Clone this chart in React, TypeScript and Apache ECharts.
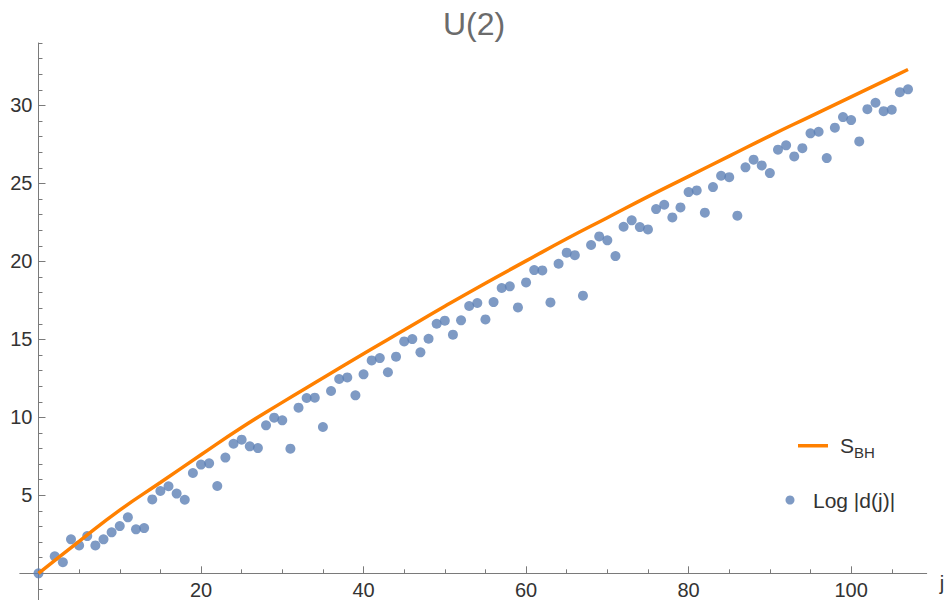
import { useEffect, useRef } from "react";
import * as echarts from "echarts";

// Scatter points: j and Log|d(j)|
const pointJ = [
  0, 2, 3, 4, 5, 6, 7, 8, 9, 10, 11, 12, 13, 14, 15, 16, 17, 18, 19, 20,
  21, 22, 23, 24, 25, 26, 27, 28, 29, 30, 31, 32, 33, 34, 35, 36, 37, 38, 39, 40,
  41, 42, 43, 44, 45, 46, 47, 48, 49, 50, 51, 52, 53, 54, 55, 56, 57, 58, 59, 60,
  61, 62, 63, 64, 65, 66, 67, 68, 69, 70, 71, 72, 73, 74, 75, 76, 77, 78, 79, 80,
  81, 82, 83, 84, 85, 86, 87, 88, 89, 90, 91, 92, 93, 94, 95, 96, 97, 98, 99, 100,
  101, 102, 103, 104, 105, 106, 107,
];
const pointLogD = [
  0, 1.09, 0.71, 2.18, 1.79, 2.39, 1.79, 2.18, 2.63, 3.03, 3.59, 2.82, 2.9, 4.74, 5.28, 5.58, 5.11, 4.72, 6.43, 6.97,
  7.05, 5.6, 7.42, 8.31, 8.57, 8.14, 8.03, 9.49, 9.98, 9.81, 7.99, 10.62, 11.24, 11.26, 9.38, 11.69, 12.46, 12.56, 11.41, 12.76,
  13.65, 13.8, 12.89, 13.89, 14.87, 15.02, 14.17, 15.04, 16.0, 16.2, 15.3, 16.22, 17.14, 17.33, 16.28, 17.39, 18.29, 18.4, 17.05, 18.65,
  19.44, 19.42, 17.37, 19.85, 20.56, 20.4, 17.8, 21.05, 21.6, 21.35, 20.34, 22.22, 22.63, 22.2, 22.05, 23.35, 23.63, 22.82, 23.46, 24.44,
  24.55, 23.12, 24.76, 25.49, 25.4, 22.93, 26.03, 26.52, 26.15, 25.66, 27.16, 27.44, 26.73, 27.26, 28.21, 28.31, 26.62, 28.57, 29.25, 29.06,
  27.69, 29.76, 30.17, 29.63, 29.72, 30.85, 31.03,
];

// S_BH curve samples
const sbhJ = [0, 5, 10, 15, 20, 25, 30, 35, 40, 45, 50, 55, 60, 65, 70, 75, 80, 85, 90, 95, 100, 105, 107];
const sbhValues = [0, 2.05, 4.05, 5.82, 7.6, 9.35, 10.96, 12.52, 14.08, 15.6, 17.12, 18.6, 20.03, 21.45, 22.8, 24.15, 25.45, 26.75, 28.05, 29.3, 30.55, 31.8, 32.3];

// Ticks
const xMajorTicks = [20, 40, 60, 80, 100];
const xMinorTicks = [5, 10, 15, 25, 30, 35, 45, 50, 55, 65, 70, 75, 85, 90, 95, 105];
const yMajorTicks = [5, 10, 15, 20, 25, 30];
const yMinorTicks = [-1, 1, 2, 3, 4, 6, 7, 8, 9, 11, 12, 13, 14, 16, 17, 18, 19, 21, 22, 23, 24, 26, 27, 28, 29, 31, 32, 33, 34];

const FONT = "'Liberation Sans', Arial, sans-serif";
const AXIS = "#7a7a7a";
const BLUE = "#5E81B5";
const ORANGE = "#FF8000";

export default function App() {
  const ref = useRef<HTMLDivElement>(null);
  useEffect(() => {
    if (!ref.current) return;
    const chart = echarts.init(ref.current, undefined, { renderer: "svg" });
    const xRange = { min: -2.3, max: 109.3 };
    const yRange = { min: -1.71, max: 34 };
    const grid = { left: 19.8, top: 43, width: 906.9, height: 557 };
    // offsets that put each axis line through the other axis's zero
    const xOff = grid.top + ((yRange.max - 0) / (yRange.max - yRange.min)) * grid.height - (grid.top + grid.height);
    const yOff = -((0 - xRange.min) / (xRange.max - xRange.min)) * grid.width;
    chart.setOption({
      animation: false,
      title: {
        text: "U(2)",
        left: 469,
        textAlign: "center",
        top: 3,
        textStyle: { fontSize: 32, fontWeight: "normal", color: "#6b6b6b", fontFamily: FONT },
      },
      grid: { ...grid, containLabel: false, outerBoundsMode: "none" },
      legend: [
        {
          data: [{ name: "S_BH", icon: "rect" }],
          left: 793,
          top: 430.25,
          itemWidth: 30,
          itemHeight: 3.5,
          selectedMode: false,
          formatter: () => "{s|S}{sub|BH}",
          textStyle: {
            color: "#333",
            fontFamily: FONT,
            padding: [0, 0, 0, 7],
            rich: {
              s: { fontSize: 21, fontFamily: FONT, color: "#333" },
              sub: { fontSize: 15, fontFamily: FONT, color: "#333", padding: [13, 0, 0, 0] },
            },
          },
        },
        {
          data: ["Log |d(j)|"],
          left: 780.5,
          top: 484.5,
          itemWidth: 9,
          itemHeight: 9,
          icon: "circle",
          selectedMode: false,
          textStyle: { fontSize: 21, fontFamily: FONT, color: "#333", padding: [0, 0, 0, 13.5] },
        },
      ],
      xAxis: [
        {
          type: "value",
          ...xRange,
          position: "bottom",
          offset: xOff,
          axisLine: { onZero: false, lineStyle: { color: AXIS, width: 1 } },
          axisTick: { show: true, inside: true, length: 7, customValues: xMajorTicks, lineStyle: { color: AXIS } },
          axisLabel: { customValues: xMajorTicks, margin: 7, fontSize: 20, color: "#333", fontFamily: FONT },
          splitLine: { show: false },
          name: "j",
          nameLocation: "end",
          nameGap: 13,
          nameTextStyle: { fontSize: 20, color: "#333", fontFamily: FONT, verticalAlign: "top", align: "left" },
        },
        {
          type: "value",
          ...xRange,
          position: "bottom",
          offset: xOff,
          axisLine: { show: false, onZero: false },
          axisTick: { show: true, inside: true, length: 4, customValues: xMinorTicks, lineStyle: { color: AXIS } },
          axisLabel: { show: false },
          splitLine: { show: false },
        },
      ],
      yAxis: [
        {
          type: "value",
          ...yRange,
          position: "left",
          offset: yOff,
          axisLine: { show: true, onZero: false, lineStyle: { color: AXIS, width: 1 } },
          axisTick: { show: true, inside: true, length: 7, customValues: yMajorTicks, lineStyle: { color: AXIS } },
          axisLabel: { customValues: yMajorTicks, margin: 6, fontSize: 20, color: "#333", fontFamily: FONT },
          splitLine: { show: false },
        },
        {
          type: "value",
          ...yRange,
          position: "left",
          offset: yOff,
          axisLine: { show: false, onZero: false },
          axisTick: { show: true, inside: true, length: 4, customValues: yMinorTicks, lineStyle: { color: AXIS } },
          axisLabel: { show: false },
          splitLine: { show: false },
        },
      ],
      series: [
        {
          name: "Log |d(j)|",
          type: "scatter",
          xAxisIndex: 0,
          yAxisIndex: 0,
          data: pointJ.map((j, i) => [j, pointLogD[i]]),
          symbolSize: 10,
          itemStyle: { color: BLUE },
          z: 2,
        },
        {
          name: "S_BH",
          type: "line",
          xAxisIndex: 0,
          yAxisIndex: 0,
          data: sbhJ.map((j, i) => [j, sbhValues[i]]),
          smooth: true,
          symbol: "none",
          lineStyle: { color: ORANGE, width: 3.5 },
          itemStyle: { color: ORANGE },
          z: 3,
        },
      ],
    });
    return () => chart.dispose();
  }, []);
  return (
    <div
      ref={ref}
      style={{ position: "absolute", left: 0, top: 0, width: 950, height: 600, background: "#fff" }}
    />
  );
}
